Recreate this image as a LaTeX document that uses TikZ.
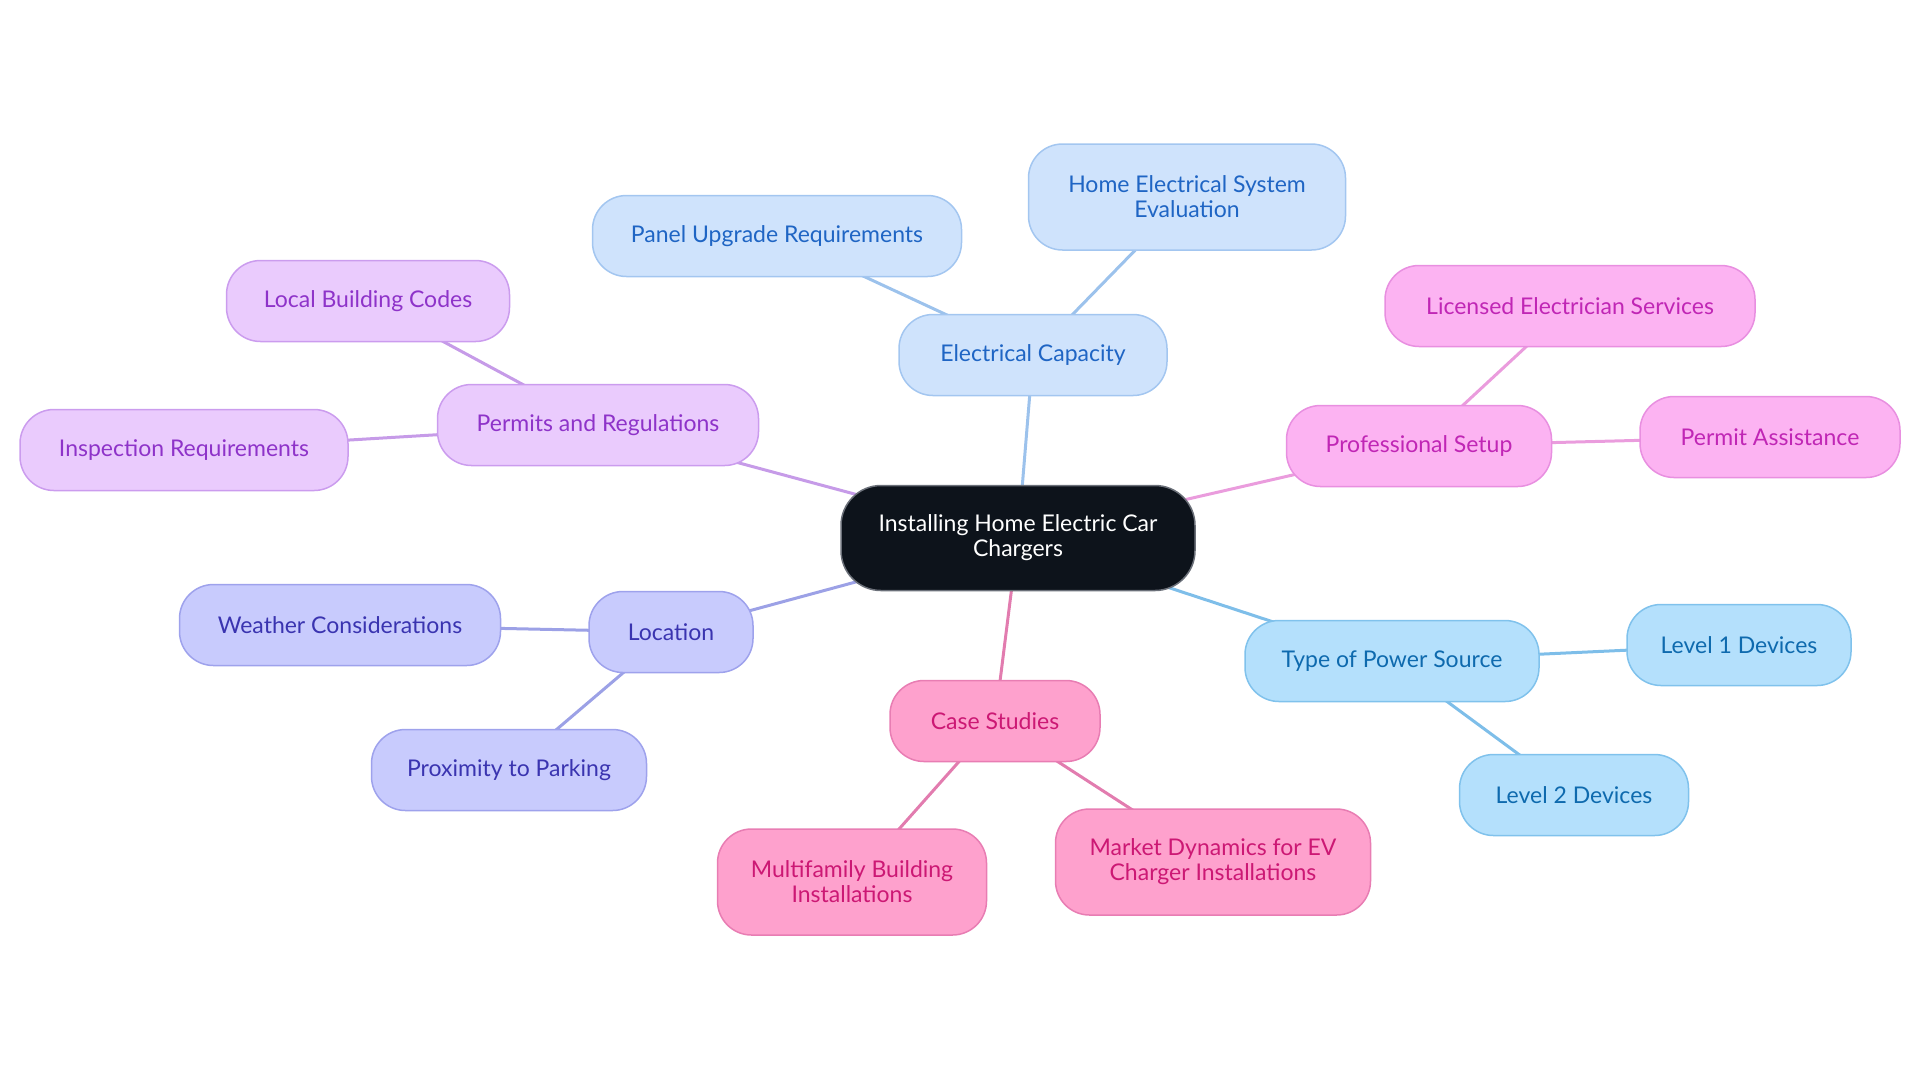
\documentclass[tikz,border=0pt]{standalone}
\usepackage{fontspec}
\setmainfont{Lato}
\usetikzlibrary{backgrounds}
\definecolor{bF}{HTML}{CFE3FC}\definecolor{bD}{HTML}{A3C6F0}\definecolor{bT}{HTML}{1F65C4}\definecolor{bL}{HTML}{9CC2EC}
\definecolor{pF}{HTML}{EACBFD}\definecolor{pD}{HTML}{CB9CEE}\definecolor{pT}{HTML}{8E33C9}\definecolor{pL}{HTML}{C69BE8}
\definecolor{iF}{HTML}{C8CBFD}\definecolor{iD}{HTML}{9EA2EC}\definecolor{iT}{HTML}{3A34B0}\definecolor{iL}{HTML}{9CA1E6}
\definecolor{kF}{HTML}{FEA1CD}\definecolor{kD}{HTML}{E87DB3}\definecolor{kT}{HTML}{CC1874}\definecolor{kL}{HTML}{E27CAF}
\definecolor{lF}{HTML}{B4E0FC}\definecolor{lD}{HTML}{80C2EC}\definecolor{lT}{HTML}{0E6AAE}\definecolor{lL}{HTML}{7EBEE9}
\definecolor{mF}{HTML}{FCB3F2}\definecolor{mD}{HTML}{E88FE0}\definecolor{mT}{HTML}{C026B5}\definecolor{mL}{HTML}{EA9CDD}
\definecolor{cF}{HTML}{0D131B}\definecolor{cD}{HTML}{6B7079}
\tikzset{
  box/.style={rounded corners=17pt, line width=0.75pt, align=center, inner sep=0pt,
    minimum height=40.5pt, font=\fontsize{11.5}{12.5}\selectfont},
  tall/.style={minimum height=53pt},
  bbox/.style={box, fill=bF, draw=bD, text=bT},
  pbox/.style={box, fill=pF, draw=pD, text=pT},
  ibox/.style={box, fill=iF, draw=iD, text=iT},
  kbox/.style={box, fill=kF, draw=kD, text=kT},
  lbox/.style={box, fill=lF, draw=lD, text=lT},
  mbox/.style={box, fill=mF, draw=mD, text=mT},
  cbox/.style={box, fill=cF, draw=cD, text=white, minimum height=52.5pt, rounded corners=20pt},
  link/.style={line width=1.5pt},
}
\begin{document}
\begin{tikzpicture}[x=0.5pt,y=-0.5pt]
\useasboundingbox (0,0) rectangle (1920,1083);
\node[cbox, minimum width=177pt] (c) at (1018,538) {Installing Home Electric Car\\Chargers};
\node[bbox, minimum width=134pt] (ec) at (1033,355) {Electrical Capacity};
\node[bbox, minimum width=184.5pt] (pu) at (777,236) {Panel Upgrade Requirements};
\node[bbox, tall, minimum width=158.5pt] (he) at (1187,197) {Home Electrical System\\Evaluation};
\node[mbox, minimum width=132.5pt] (ps) at (1419,446) {Professional Setup};
\node[mbox, minimum width=185pt] (le) at (1570,306) {Licensed Electrician Services};
\node[mbox, minimum width=130pt] (pa) at (1770,437) {Permit Assistance};
\node[pbox, minimum width=160.5pt] (pr) at (598,425) {Permits and Regulations};
\node[pbox, minimum width=141.5pt] (lb) at (368,301) {Local Building Codes};
\node[pbox, minimum width=164pt] (ir) at (184,450) {Inspection Requirements};
\node[ibox, minimum width=82pt] (lo) at (671,632) {Location};
\node[ibox, minimum width=160.5pt] (wc) at (340,625) {Weather Considerations};
\node[ibox, minimum width=137.5pt] (pp) at (509,770) {Proximity to Parking};
\node[kbox, minimum width=105pt] (cs) at (995,721) {Case Studies};
\node[kbox, tall, minimum width=134.5pt] (mb) at (852,882) {Multifamily Building\\Installations};
\node[kbox, tall, minimum width=157.5pt] (md) at (1213,862) {Market Dynamics for EV\\Charger Installations};
\node[lbox, minimum width=147pt] (tp) at (1392,661) {Type of Power Source};
\node[lbox, minimum width=112pt] (l1) at (1739,645) {Level 1 Devices};
\node[lbox, minimum width=114.5pt] (l2) at (1574,795) {Level 2 Devices};
\begin{scope}[on background layer]
\draw[link, bL] (c.center) -- (ec.center);
\draw[link, bL] (ec.center) -- (pu.center);
\draw[link, bL] (ec.center) -- (he.center);
\draw[link, mL] (c.center) -- (ps.center);
\draw[link, mL] (ps.center) -- (le.center);
\draw[link, mL] (ps.center) -- (pa.center);
\draw[link, pL] (c.center) -- (pr.center);
\draw[link, pL] (pr.center) -- (lb.center);
\draw[link, pL] (pr.center) -- (ir.center);
\draw[link, iL] (c.center) -- (lo.center);
\draw[link, iL] (lo.center) -- (wc.center);
\draw[link, iL] (lo.center) -- (pp.center);
\draw[link, kL] (c.center) -- (cs.center);
\draw[link, kL] (cs.center) -- (mb.center);
\draw[link, kL] (cs.center) -- (md.center);
\draw[link, lL] (c.center) -- (tp.center);
\draw[link, lL] (tp.center) -- (l1.center);
\draw[link, lL] (tp.center) -- (l2.center);
\end{scope}
\end{tikzpicture}
\end{document}
